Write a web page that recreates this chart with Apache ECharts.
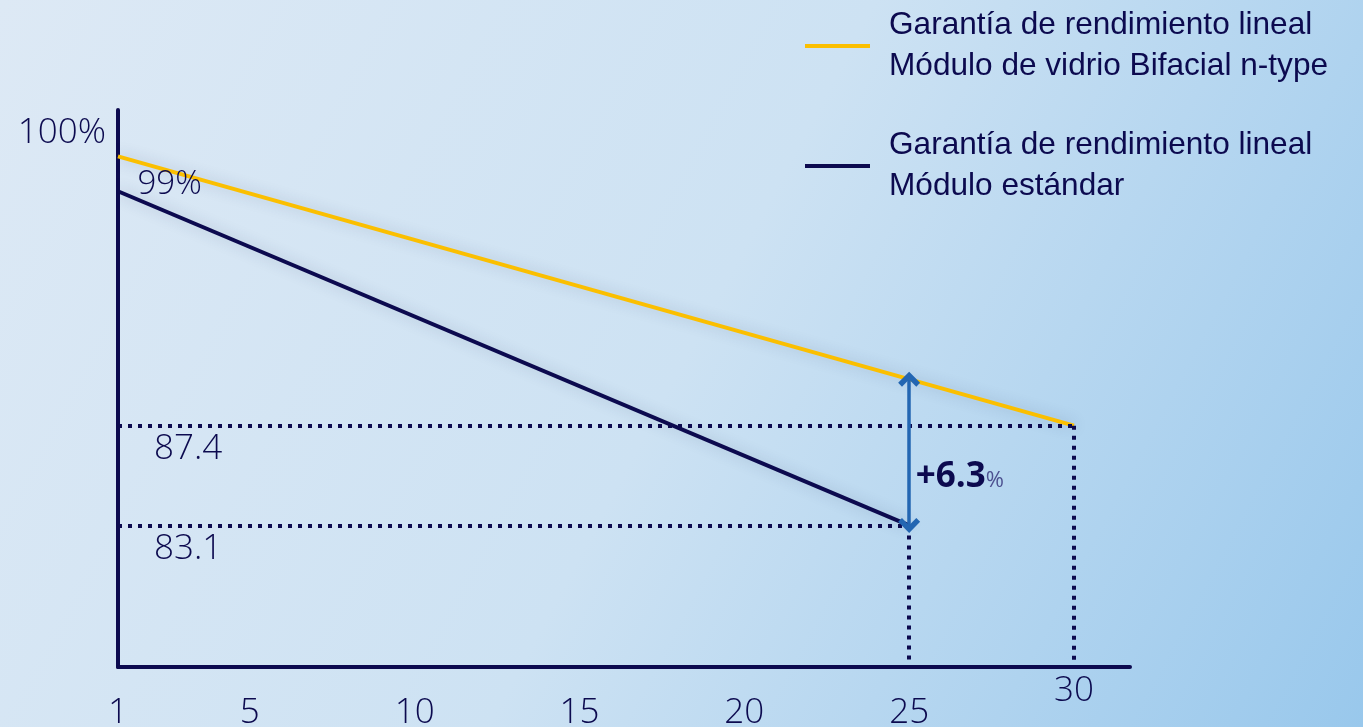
<!DOCTYPE html>
<html>
<head>
<meta charset="utf-8">
<script src="https://cdn.jsdelivr.net/npm/echarts@6/dist/echarts.min.js"></script>
<style>
  html, body { margin: 0; padding: 0; }
  #chart { width: 1363px; height: 727px; }
</style>
</head>
<body>
<div id="chart"></div>
<script>
// years shown on the x axis
const yearTicks = [1, 5, 10, 15, 20, 25, 30]

// n-type bifacial glass module: first year 99%, 87.4% at year 30
const bifacialYears = [1, 30]
const bifacialValues = [99, 87.4]

// standard module: 83.1% at year 25
const standardYears = [1, 25]
const standardValues = [97.5, 83.1]

// value of the bifacial line at year 25, and the gain over standard
const bifacialAt25 = 89.4
const gain = 6.3

const seriesNames = [
  'Garantía de rendimiento lineal\nMódulo de vidrio Bifacial n-type',
  'Garantía de rendimiento lineal\nMódulo estándar'
]

const yMin = 77
const yMax = 101
const navy = '#0c0a4f'
const yellow = '#fbbf00'
const arrowBlue = '#2366b2'
const numFont = { fontFamily: 'Open Sans', fontWeight: 300, fontSize: 35, color: navy }

const chart = echarts.init(document.getElementById('chart'))

const dotted = { type: [4, 6], width: 4, color: navy, cap: 'butt' }
const chevron = 'path://M0,10 L10,0 L20,10 L16.5,13.5 L10,7 L3.5,13.5 Z'

const option = {
  backgroundColor: new echarts.graphic.LinearGradient(0, 0, 1, 1, [
    { offset: 0, color: '#dde9f5' },
    { offset: 0.5, color: '#cde2f3' },
    { offset: 1, color: '#99c8ec' }
  ]),
  textStyle: { fontFamily: 'Open Sans' },
  animation: false,
  legend: {
    orient: 'vertical',
    left: 800,
    top: 0,
    icon: 'rect',
    itemWidth: 65,
    itemHeight: 4,
    itemGap: 38,
    selectedMode: false,
    data: seriesNames,
    textStyle: {
      fontFamily: 'Liberation Sans',
      fontSize: 31.6,
      lineHeight: 41,
      color: navy,
      padding: [0, 0, 0, 14]
    }
  },
  grid: {
    left: 118,
    right: 233,
    top: 110,
    bottom: 60,
    outerBoundsMode: 'none'
  },
  xAxis: {
    type: 'value',
    min: 1,
    max: 31.7,
    interval: 1,
    axisLine: { lineStyle: { color: navy, width: 4 } },
    axisTick: { show: false },
    splitLine: { show: false },
    axisLabel: {
      margin: 7,
      ...numFont,
      formatter: (v) => {
        if (!yearTicks.includes(v)) return ''
        return v === 30 ? '{up|' + v + '}' : '{n|' + v + '}'
      },
      rich: {
        n: { ...numFont, padding: [22, 0, 0, 0] },
        up: { ...numFont }
      }
    }
  },
  yAxis: {
    type: 'value',
    min: yMin,
    max: yMax,
    interval: 1,
    axisLine: { show: true, lineStyle: { color: navy, width: 4 } },
    axisTick: { show: false },
    splitLine: { show: false },
    axisLabel: {
      margin: 12,
      ...numFont,
      formatter: (v) => (v === 100 ? '100%' : '')
    }
  },
  series: [
    {
      name: seriesNames[0],
      type: 'line',
      showSymbol: false,
      color: yellow,
      lineStyle: { width: 4, color: yellow, shadowBlur: 14, shadowColor: 'rgba(40,60,100,0.25)' },
      data: bifacialYears.map((y, i) => [y, bifacialValues[i]]),
      markLine: {
        silent: true,
        symbol: 'none',
        lineStyle: dotted,
        data: [
          [
            {
              coord: [bifacialYears[0], bifacialValues[1]],
              label: {
                show: true,
                position: 'insideStartBottom',
                formatter: String(bifacialValues[1]),
                ...numFont,
                distance: [36, 6]
              }
            },
            { coord: [bifacialYears[1], bifacialValues[1]] }
          ],
          [
            { coord: [bifacialYears[1], bifacialValues[1]], label: { show: false } },
            { coord: [bifacialYears[1], yMin] }
          ]
        ]
      },
      markPoint: {
        silent: true,
        symbol: 'circle',
        symbolSize: 1,
        itemStyle: { color: 'transparent' },
        data: [
          {
            coord: [bifacialYears[0], bifacialValues[0]],
            label: {
              show: true,
              formatter: bifacialValues[0] + '%',
              position: [20, 12],
              ...numFont,
              fontSize: 33
            }
          }
        ]
      }
    },
    {
      name: seriesNames[1],
      type: 'line',
      showSymbol: false,
      color: navy,
      lineStyle: { width: 4, color: navy, shadowBlur: 14, shadowColor: 'rgba(40,60,100,0.25)' },
      data: standardYears.map((y, i) => [y, standardValues[i]]),
      markLine: {
        silent: true,
        symbol: 'none',
        lineStyle: dotted,
        data: [
          [
            {
              coord: [standardYears[0], standardValues[1]],
              label: {
                show: true,
                position: 'insideStartBottom',
                formatter: String(standardValues[1]),
                ...numFont,
                distance: [36, 6]
              }
            },
            { coord: [standardYears[1], standardValues[1]] }
          ],
          [
            { coord: [standardYears[1], standardValues[1]], label: { show: false } },
            { coord: [standardYears[1], yMin] }
          ],
          [
            {
              coord: [standardYears[1], bifacialAt25],
              symbol: chevron,
              symbolSize: [22, 15],
              lineStyle: { type: 'solid', width: 3.5, color: arrowBlue },
              itemStyle: { color: arrowBlue },
              label: { show: false }
            },
            {
              coord: [standardYears[1], standardValues[1]],
              symbol: chevron,
              symbolSize: [22, 15],
              itemStyle: { color: arrowBlue }
            }
          ]
        ]
      },
      markPoint: {
        silent: true,
        symbol: 'circle',
        symbolSize: 1,
        itemStyle: { color: 'transparent' },
        data: [
          {
            coord: [standardYears[1], standardValues[1] + 2.1],
            label: {
              show: true,
              position: 'right',
              distance: 6,
              formatter: '{b|+' + gain + '}{s|%}',
              rich: {
                b: { fontFamily: 'Open Sans', fontSize: 35, fontWeight: 'bold', color: navy },
                s: { fontFamily: 'Open Sans', fontSize: 22, color: '#4d5190', padding: [8, 0, 0, 0] }
              }
            }
          }
        ]
      }
    }
  ]
}

chart.setOption(option)

window.addEventListener('resize', () => {
  chart?.resize()
})
</script>
</body>
</html>
